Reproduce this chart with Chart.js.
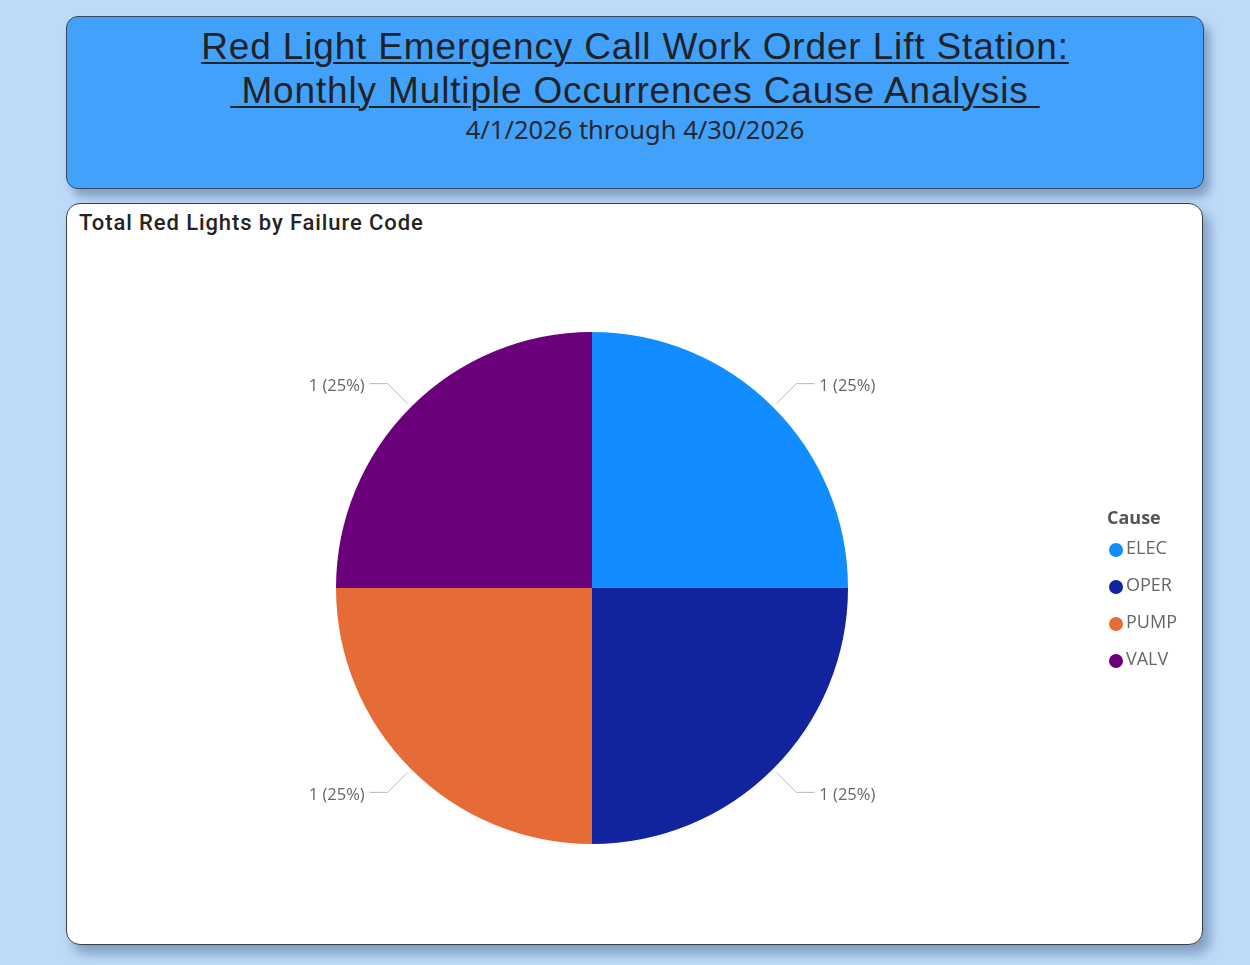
<!DOCTYPE html>
<html lang="en">
<head>
<meta charset="utf-8">
<title>Red Light Cause Analysis</title>
<script src="https://cdn.jsdelivr.net/npm/chart.js@4"></script>
<style>
body {margin: 0; width: 1250px; height: 965px; background: #bddbf8; position: relative; overflow: hidden;}
.header {
	position: absolute; left: 66px; top: 16px; width: 1136px; height: 171px;
	background: #42a1fb; border: 1.5px solid #3a4a5a; border-radius: 12px;
	box-shadow: 6px 8px 10px rgba(80,110,150,0.55);
	text-align: center; color: #1f2328;
}
.header .t {font-family: "Liberation Sans", Arial, sans-serif; font-size: 37px; letter-spacing: 0.85px; line-height: 44px; text-decoration: underline; text-decoration-thickness: 2px; text-underline-offset: 3px; margin-top: 8px;}
.header .s {font-family: "Noto Sans", sans-serif; font-size: 25.5px; line-height: 32px; color: #252a30;}
.card {
	position: absolute; left: 66px; top: 203px; width: 1135px; height: 740px;
	background: #ffffff; border: 1.5px solid #3a4048; border-radius: 14px;
	box-shadow: 7px 9px 12px rgba(80,110,150,0.55);
}
.card .ct {position: absolute; left: 12px; top: 6px; font-family: Roboto, sans-serif; font-weight: 500; font-size: 22px; letter-spacing: 0.9px; color: #252423;}
#pie {position: absolute; left: 66px; top: 203px;}
</style>
</head>
<body>
<div class="header">
	<div class="t">Red Light Emergency Call Work Order Lift Station:<br>&nbsp;Monthly Multiple Occurrences Cause Analysis&nbsp;</div>
	<div class="s">4/1/2026 through 4/30/2026</div>
</div>
<div class="card"><div class="ct">Total Red Lights by Failure Code</div></div>
<canvas id="pie" width="1138" height="742"></canvas>

<script>
// data
const causes = ['ELEC', 'OPER', 'PUMP', 'VALV'];
const counts = [1, 1, 1, 1];
const legendTitle = 'Cause';
const sliceColors = ['#118dff', '#12239e', '#e66c37', '#6b007b'];

// leader lines + "n (p%)" labels
const labelPlugin = {
	id: 'outLabels',
	afterDatasetsDraw(chart) {
		const ctx = chart.ctx;
		const meta = chart.getDatasetMeta(0);
		const data = chart.data.datasets[0].data;
		const total = data.reduce((a, b) => a + b, 0);
		ctx.save();
		ctx.font = '16.5px "Open Sans", sans-serif';
		ctx.textBaseline = 'middle';
		meta.data.forEach(function (arc, i) {
			const a = (arc.startAngle + arc.endAngle) / 2;
			const r = arc.outerRadius;
			const x1 = arc.x + Math.cos(a) * (r + 5), y1 = arc.y + Math.sin(a) * (r + 5);
			const x2 = arc.x + Math.cos(a) * (r + 33), y2 = arc.y + Math.sin(a) * (r + 33);
			const dir = Math.cos(a) >= 0 ? 1 : -1;
			const x3 = x2 + dir * 18;
			ctx.strokeStyle = '#b8b8b8';
			ctx.lineWidth = 1;
			ctx.beginPath();
			ctx.moveTo(x1, y1); ctx.lineTo(x2, y2); ctx.lineTo(x3, y2);
			ctx.stroke();
			const pct = Math.round(data[i] / total * 100);
			ctx.fillStyle = '#666666';
			ctx.textAlign = dir > 0 ? 'left' : 'right';
			ctx.fillText(data[i] + ' (' + pct + '%)', x3 + dir * 5, y2 + 3);
		});
		ctx.restore();
	}
};

// legend on the right, Power BI style
const legendPlugin = {
	id: 'sideLegend',
	afterDraw(chart) {
		const ctx = chart.ctx;
		const x = 1041, y0 = 316;
		ctx.save();
		ctx.textBaseline = 'middle';
		ctx.textAlign = 'left';
		ctx.font = 'bold 18px "Open Sans", sans-serif';
		ctx.fillStyle = '#555555';
		ctx.fillText(legendTitle, x, y0);
		ctx.font = '18px "Open Sans", sans-serif';
		chart.data.labels.forEach(function (lab, i) {
			const y = y0 + 30 + i * 37;
			ctx.fillStyle = chart.data.datasets[0].backgroundColor[i];
			ctx.beginPath();
			ctx.arc(x + 9, y + 1, 7, 0, Math.PI * 2);
			ctx.fill();
			ctx.fillStyle = '#666666';
			ctx.fillText(lab, x + 19, y);
		});
		ctx.restore();
	}
};

new Chart(document.getElementById('pie'), {
	type: 'pie',
	data: {
		labels: causes,
		datasets: [{
			data: counts,
			backgroundColor: sliceColors,
			borderWidth: 0
		}]
	},
	options: {
		responsive: false,
		animation: false,
		layout: {padding: {left: 270, right: 356, top: 129, bottom: 101}},
		plugins: {
			legend: {display: false},
			tooltip: {enabled: false}
		}
	},
	plugins: [labelPlugin, legendPlugin]
});
</script>
</body>
</html>
